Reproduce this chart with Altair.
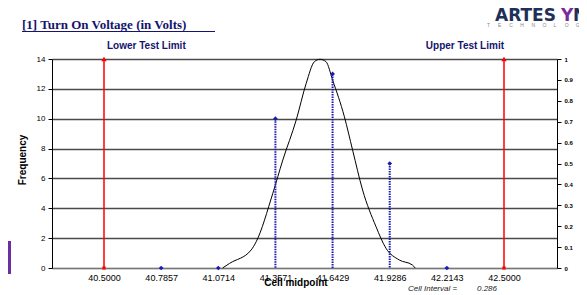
import altair as alt
import pandas as pd

# ---- data ----
midpoints = [40.7857, 41.0714, 41.3571, 41.6429, 41.9286, 42.2143]
frequency = [0, 0, 10, 13, 7, 0]
tick_labels = [40.5000, 40.7857, 41.0714, 41.3571, 41.6429, 41.9286, 42.2143, 42.5000]
limits = [40.5000, 42.5000]
limit_names = ["Lower Test Limit", "Upper Test Limit"]
curve_x = [41.093, 41.128, 41.236, 41.261, 41.344, 41.394, 41.461, 41.511, 41.552,
           41.580, 41.610, 41.643, 41.702, 41.743, 41.793, 41.860, 41.910, 41.976,
           42.042, 42.056]
curve_y = [0.0, 0.31, 1.21, 1.76, 5.00, 7.23, 9.91, 12.37, 13.82, 13.98, 13.82,
           12.59, 10.13, 7.90, 5.22, 2.77, 1.32, 0.54, 0.20, 0.0]
right_ticks = [0, 0.1, 0.2, 0.3, 0.4, 0.5, 0.6, 0.7, 0.8, 0.9, 1]
left_ticks = [0, 2, 4, 6, 8, 10, 12, 14]
cell_interval = "0.286"

stems = pd.DataFrame({"x": midpoints, "y": frequency, "z": [0] * len(midpoints)})
lim = pd.DataFrame({"x": limits, "top": [14, 14], "bottom": [0, 0], "name": limit_names})
curve = pd.DataFrame({"x": curve_x, "y": curve_y})
right_df = pd.DataFrame({"x": [40.5, 40.5], "p": [0, 1]})

XDOM = [40.24, 42.765]
NAVY = "#14146e"
BLUE = "#1a1ab8"

xs = alt.Scale(domain=XDOM, nice=False, zero=False)
ys = alt.Scale(domain=[0, 14], nice=False, zero=True)

x_axis = alt.Axis(values=tick_labels, format=".4f", title=None, grid=False, ticks=False,
                  labelFontSize=9, labelColor="#000", labelPadding=5, domainColor="#777",
                  labelFont="Liberation Sans", labelOverlap=False)
y_axis = alt.Axis(values=left_ticks, title=None, grid=True, gridColor="#4a4a4a",
                  gridWidth=1.4, tickColor="#000", tickSize=4, labelFontSize=8,
                  labelColor="#000", labelPadding=3, domainColor="#000",
                  labelFont="Liberation Sans", labelOverlap=False)


def X(field="x"):
    return alt.X(f"{field}:Q", scale=xs, axis=x_axis)


def Y(field):
    return alt.Y(f"{field}:Q", scale=ys, axis=y_axis)


curve_layer = alt.Chart(curve).mark_line(color="#000", strokeWidth=1, interpolate="monotone").encode(
    x=X(), y=Y("y"),
)

base = alt.Chart(stems)
stem_rules = base.mark_rule(color=BLUE, strokeWidth=2, strokeDash=[1.5, 1]).encode(
    x=X(), y=Y("y"), y2="z:Q"
)
stem_pts = base.mark_point(shape="diamond", filled=True, color=BLUE, size=22, opacity=1).encode(
    x=X(), y=Y("y")
)

lim_base = alt.Chart(lim)
lim_rules = lim_base.mark_rule(color="#ff0000", strokeWidth=1.5).encode(
    x=X(), y=Y("top"), y2="bottom:Q"
)
lim_top = lim_base.mark_point(shape="triangle-up", filled=True, color="#ff0000", size=28, opacity=1).encode(
    x=X(), y=Y("top")
)
lim_bot = lim_base.mark_point(shape="square", filled=True, color="#ff0000", size=10, opacity=1).encode(
    x=X(), y=Y("bottom")
)
lower_lbl = alt.Chart(lim.iloc[[0]]).mark_text(
    align="left", baseline="middle", fontSize=10, fontWeight="bold", color=NAVY,
    font="Liberation Sans", dx=3).encode(
    x=X(), y=alt.value(-13), text="name:N")
upper_lbl = alt.Chart(lim.iloc[[1]]).mark_text(
    align="right", baseline="middle", fontSize=10, fontWeight="bold", color=NAVY,
    font="Liberation Sans", dx=0).encode(
    x=X(), y=alt.value(-13), text="name:N")


def txt(s, x, y, **kw):
    return alt.Chart(pd.DataFrame({"t": [s]})).mark_text(**kw).encode(
        x=alt.value(x), y=alt.value(y), text="t:N")


title = txt("[1]  Turn On Voltage    (in Volts)", -30, -30, align="left", baseline="alphabetic",
            fontSize=13, fontWeight="bold", font="Liberation Serif", color=NAVY)
underline = alt.Chart(pd.DataFrame({"a": [0]})).mark_rule(color=NAVY, strokeWidth=1).encode(
    x=alt.value(-30), x2=alt.value(163), y=alt.value(-27.5))
freq_t = txt("Frequency", -29, 101, angle=270, align="center", baseline="middle",
             fontSize=10, fontWeight="bold", font="Liberation Sans", color="#000")
cell_t = txt("Cell midpoint", 244, 224, align="center", baseline="middle",
             fontSize=10, fontWeight="bold", font="Liberation Sans", color="#000")
ci_t = txt("Cell Interval =", 356, 230, align="left", baseline="middle",
           fontSize=8, fontStyle="italic", font="Liberation Sans", color="#222")
ci_v = txt(cell_interval, 425, 230, align="left", baseline="middle",
           fontSize=8, fontStyle="italic", font="Liberation Sans", color="#222")
logo1 = txt("ARTES", 443, -38, align="left", baseline="alphabetic", fontSize=17,
            fontWeight="bold", font="DejaVu Sans", color="#1e2f58")
logo2 = txt("Y", 509, -38, align="left", baseline="alphabetic", fontSize=17,
            fontWeight="bold", font="DejaVu Sans", color="#7a2aa0")
logo3 = txt("N", 521, -38, align="left", baseline="alphabetic", fontSize=17,
            fontWeight="bold", font="DejaVu Sans", color="#1e2f58")
letters = list("TECHNOLOGIES")
tech = [txt(ch, 435 + 11.1 * i, -34, align="left", baseline="middle", fontSize=5,
            font="Liberation Sans", color="#888") for i, ch in enumerate(letters)]
purple = alt.Chart(pd.DataFrame({"a": [0]})).mark_rect(color="#6b2fa0").encode(
    x=alt.value(-44), x2=alt.value(-41), y=alt.value(182), y2=alt.value(215))

inner = alt.layer(curve_layer, stem_rules, stem_pts, lim_rules, lim_top, lim_bot,
                  lower_lbl, upper_lbl)

right_layer = alt.Chart(right_df).mark_point(opacity=0).encode(
    x=X(),
    y=alt.Y("p:Q", scale=alt.Scale(domain=[0, 1], nice=False),
            axis=alt.Axis(orient="right", values=right_ticks, format="~g", title=None,
                          grid=False, tickSize=4, tickColor="#000", domainColor="#000",
                          labelFontSize=6, labelFontWeight="bold", labelColor="#000",
                          labelPadding=3, labelFont="Liberation Sans", labelOverlap=False)),
)

chart = alt.layer(inner, right_layer, title, underline, freq_t, cell_t, ci_t, ci_v,
                  logo1, logo2, logo3, *tech, purple).resolve_scale(y="independent").properties(
    width=505, height=209, autosize="none",
    padding={"left": 44, "top": 51, "right": 22, "bottom": 27},
).configure_view(stroke=None).configure(background="#ffffff")

chart.save("out.html", embed_options={"renderer": "svg", "actions": False})
